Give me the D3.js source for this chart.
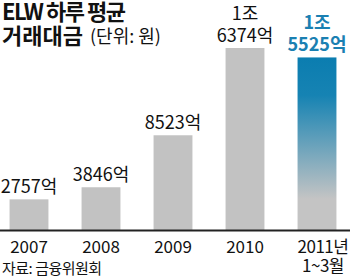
<!DOCTYPE html>
<html>
<head>
<meta charset="utf-8">
<script src="https://cdn.jsdelivr.net/npm/d3@7"></script>
<style>
body { margin: 0; background: #fff; }
text { font-family: "Noto Sans CJK KR", "Liberation Sans", sans-serif; }
.num { font-family: "Liberation Sans Narrow", "Noto Sans CJK KR", sans-serif; }
</style>
</head>
<body>
<script>
var years = ["2007", "2008", "2009", "2010", "2011"];
var yearLabels = [["2007"], ["2008"], ["2009"], ["2010"], ["2011년", "1~3월"]];
var values = [2757, 3846, 8523, 16374, 15525];
var valueLabels = [["2757억"], ["3846억"], ["8523억"], ["1조", "6374억"], ["1조", "5525억"]];

var width = 350, height = 279;
var base = 230;

var svg = d3.select("body").append("svg").attr("width", width).attr("height", height);

var defs = svg.append("defs");
var grad = defs.append("linearGradient").attr("id", "g11")
    .attr("x1", 0).attr("y1", 0).attr("x2", 0).attr("y2", 1);
grad.append("stop").attr("offset", "0%").attr("stop-color", "#0b7db0");
grad.append("stop").attr("offset", "22%").attr("stop-color", "#1683b3");
grad.append("stop").attr("offset", "82%").attr("stop-color", "#c4c4c4");
grad.append("stop").attr("offset", "100%").attr("stop-color", "#c4c4c4");

var x = d3.scaleBand().domain(years).range([-7, 353]).paddingInner(0.46).paddingOuter(0.23);
var y = d3.scaleLinear().domain([0, 16374]).range([base, 48]);

svg.selectAll("rect.bar").data(values).enter().append("rect")
    .attr("class", "bar")
    .attr("x", function(d, i){ return x(years[i]); })
    .attr("y", function(d){ return y(d); })
    .attr("width", x.bandwidth())
    .attr("height", function(d){ return base - y(d); })
    .attr("fill", function(d, i){ return i == 4 ? "url(#g11)" : "#c2c2c2"; });

// axis line
svg.append("line").attr("x1", 0).attr("x2", width).attr("y1", base + 0.5).attr("y2", base + 0.5)
    .attr("stroke", "#222").attr("stroke-width", 2);

// value labels
valueLabels.forEach(function(lines, i){
    var cx = x(years[i]) + x.bandwidth() / 2;
    var top = y(values[i]) - 7;
    lines.forEach(function(t, j){
        svg.append("text")
            .attr("class", "num")
            .attr("text-anchor", "middle")
            .attr("font-size", 18)
            .attr("fill", i == 4 ? "#1a80b2" : "#111")
            .attr("font-weight", i == 4 ? "bold" : "normal")
            .attr("x", cx).attr("y", top - (lines.length - 1 - j) * 22 + 1).text(t);
    });
});

// year labels
yearLabels.forEach(function(lines, i){
    var cx = x(years[i]) + x.bandwidth() / 2;
    lines.forEach(function(t, j){
        svg.append("text")
            .attr("class", "num")
            .attr("text-anchor", "middle")
            .attr("font-size", 17)
            .attr("letter-spacing", lines.length > 1 ? -0.5 : 0)
            .attr("fill", "#111")
            .attr("x", cx + (lines.length > 1 ? 6 : 0)).attr("y", 253 + j * 19).text(t);
    });
});

// title
svg.append("text").attr("x", 2).attr("y", 20).attr("font-size", 22).attr("font-weight", "bold")
    .attr("letter-spacing", -1.5).attr("fill", "#111").text("ELW 하루 평균");
svg.append("text").attr("x", 2).attr("y", 44).attr("fill", "#111")
    .attr("font-size", 22).attr("font-weight", "bold").text("거래대금");
svg.append("text").attr("x", 90).attr("y", 43).attr("fill", "#111")
    .attr("font-size", 18).text("(단위: 원)");

// source
svg.append("text").attr("x", 2).attr("y", 274).attr("font-size", 15).attr("letter-spacing", -0.5)
    .attr("fill", "#111").text("자료: 금융위원회");
</script>
</body>
</html>
